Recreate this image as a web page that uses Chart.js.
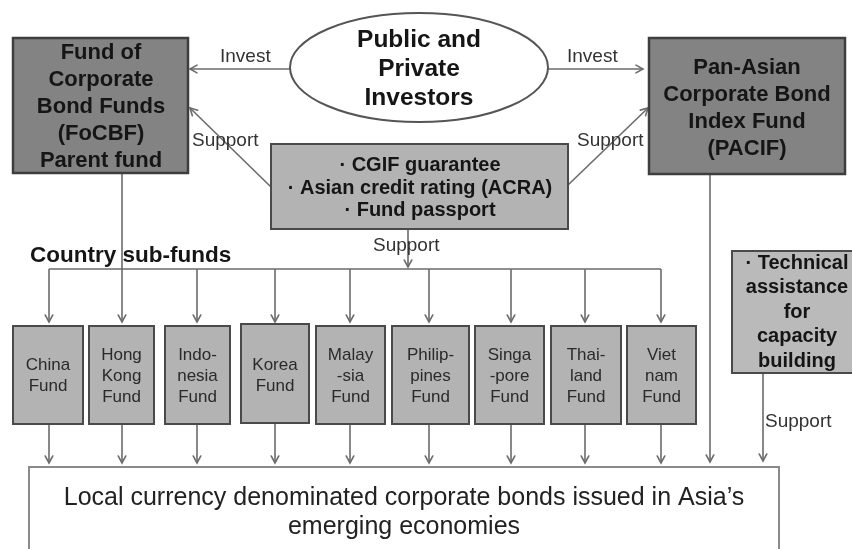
<!DOCTYPE html>
<html><head><meta charset="utf-8">
<script src="https://cdn.jsdelivr.net/npm/chart.js@4"></script>
<style>html,body{margin:0;padding:0;background:#fff}#wrap{width:852px;height:549px;position:relative}</style>
</head><body><div id="wrap"><canvas id="c"></canvas></div>
<script>
// ---------- content (texts) ----------
const investorsText = ["Public and","Private","Investors"];
const focbfText = ["Fund of","Corporate","Bond Funds","(FoCBF)","Parent fund"];
const pacifText = ["Pan-Asian","Corporate Bond","Index Fund","(PACIF)"];
const cgifText = ["\u00b7 CGIF guarantee","\u00b7 Asian credit rating (ACRA)","\u00b7 Fund passport"];
const techText = ["\u00b7 Technical","assistance","for","capacity","building"];
const bottomText = ["Local currency denominated corporate bonds issued in Asia\u2019s","emerging economies"];
const subFundsTitle = "Country sub-funds";
const fundNames = [["China","Fund"],["Hong","Kong","Fund"],["Indo-","nesia","Fund"],["Korea","Fund"],
  ["Malay","-sia","Fund"],["Philip-","pines","Fund"],["Singa","-pore","Fund"],["Thai-","land","Fund"],["Viet","nam","Fund"]];
const edgeLabels = ["Invest","Invest","Support","Support","Support","Support"];

// ---------- layout (diagram units) ----------
const fundLeft  = [13,89,165,241,316,392,475,551,627];
const fundRight = [83,154,230,309,385,469,544,621,696];
const fundArrowX = [49,122,197,275,350,429,511,585,661];

const FONT = '"Liberation Sans", Arial, Helvetica, sans-serif';
const DARK = '#838383', LIGHT = '#b3b3b3';

const boxes = [
  {x0:13,y0:38,x1:188,y1:173,fill:DARK,stroke:'#3e3e3e',lw:2.5,text:focbfText,cx:101,cy:107,lh:27,font:'bold 22px '+FONT},
  {x0:649,y0:38,x1:845,y1:174,fill:DARK,stroke:'#3e3e3e',lw:2.5,text:pacifText,cx:747,cy:108,lh:27,font:'bold 22px '+FONT},
  {x0:271,y0:144,x1:568,y1:229,fill:LIGHT,stroke:'#4a4a4a',lw:2,text:cgifText,cx:420,cy:188,lh:22.5,font:'bold 20px '+FONT},
  {x0:732,y0:251,x1:870,y1:373,fill:'#bababa',stroke:'#4a4a4a',lw:2,text:techText,cx:797,cy:312,lh:24.5,font:'bold 20px '+FONT},
  {x0:29,y0:467,x1:779,y1:570,fill:'#ffffff',stroke:'#8a8a8a',lw:2,text:bottomText,cx:404,cy:512.5,lh:29,font:'25px '+FONT,color:'#222'}
];
fundNames.forEach((t,i)=>{
  boxes.push({x0:fundLeft[i],y0:i===3?324:326,x1:fundRight[i],y1:i===3?423:424,fill:LIGHT,stroke:'#4a4a4a',lw:2,
    text:t,cx:(fundLeft[i]+fundRight[i])/2,cy:376,lh:21,font:'17px '+FONT,color:'#2a2a2a'});
});
const ellipse = {cx:419,cy:67.5,rx:129,ry:54.5,text:investorsText,lh:29,font:'bold 24.5px '+FONT,tcy:69};

const connectors = [
  {pts:[[290,69],[190,69]],arrow:true},
  {pts:[[548,69],[643,69]],arrow:true},
  {pts:[[271,187],[190,108]],arrow:true},
  {pts:[[568,185],[648,108]],arrow:true},
  {pts:[[408,229],[408,267]],arrow:true},
  {pts:[[49,269],[661,269]],arrow:false},
  {pts:[[122,173],[122,269]],arrow:false},
  {pts:[[710,174],[710,462]],arrow:true},
  {pts:[[763,373],[763,461]],arrow:true}
];
fundArrowX.forEach(x=>{
  connectors.push({pts:[[x,269],[x,322]],arrow:true});
  connectors.push({pts:[[x,424],[x,463]],arrow:true});
});
const labels = [
  {t:edgeLabels[0],x:220,y:57},{t:edgeLabels[1],x:567,y:57},
  {t:edgeLabels[2],x:192,y:141},{t:edgeLabels[3],x:577,y:141},
  {t:edgeLabels[4],x:373,y:246},{t:edgeLabels[5],x:765,y:422}
];
const LINE = '#6b6b6b';

const diagram = {
  id:'diagram',
  beforeDatasetsDraw(chart){
    const {ctx} = chart;
    ctx.save();
    ctx.fillStyle='#fff'; ctx.fillRect(0,0,chart.width,chart.height);
    ctx.restore();
  },
  afterDatasetsDraw(chart){
    const {ctx, scales:{x,y}} = chart;
    const X=v=>x.getPixelForValue(v), Y=v=>y.getPixelForValue(v);
    ctx.save();
    // arrowheads
    ctx.strokeStyle=LINE; ctx.lineWidth=1.6; ctx.lineCap='round';
    connectors.forEach(c=>{
      if(!c.arrow) return;
      const a=c.pts[c.pts.length-2], b=c.pts[c.pts.length-1];
      const ax=X(a[0]),ay=Y(a[1]),bx=X(b[0]),by=Y(b[1]);
      const ang=Math.atan2(by-ay,bx-ax), L=8, W=0.5;
      ctx.beginPath();
      ctx.moveTo(bx-L*Math.cos(ang-W),by-L*Math.sin(ang-W));
      ctx.lineTo(bx,by);
      ctx.lineTo(bx-L*Math.cos(ang+W),by-L*Math.sin(ang+W));
      ctx.stroke();
    });
    // ellipse
    ctx.beginPath();
    ctx.ellipse(X(ellipse.cx),Y(ellipse.cy),X(ellipse.cx+ellipse.rx)-X(ellipse.cx),Y(ellipse.cy+ellipse.ry)-Y(ellipse.cy),0,0,Math.PI*2);
    ctx.fillStyle='#fff'; ctx.fill();
    ctx.strokeStyle='#555'; ctx.lineWidth=2; ctx.stroke();
    drawLines(ctx, ellipse.text, X(ellipse.cx), Y(ellipse.tcy), ellipse.lh, ellipse.font, '#151515');
    // boxes
    boxes.forEach(b=>{
      const px0=X(b.x0),py0=Y(b.y0),px1=X(b.x1),py1=Y(b.y1);
      ctx.fillStyle=b.fill; ctx.fillRect(px0,py0,px1-px0,py1-py0);
      ctx.strokeStyle=b.stroke; ctx.lineWidth=b.lw; ctx.strokeRect(px0,py0,px1-px0,py1-py0);
      drawLines(ctx,b.text,X(b.cx),Y(b.cy),b.lh,b.font,b.color||'#151515');
    });
    // edge labels
    ctx.font='19px '+FONT; ctx.fillStyle='#333'; ctx.textAlign='left'; ctx.textBaseline='middle';
    labels.forEach(l=>ctx.fillText(l.t,X(l.x),Y(l.y)));
    ctx.font='bold 22.5px '+FONT; ctx.fillStyle='#151515';
    ctx.fillText(subFundsTitle,X(30),Y(256));
    ctx.restore();
  }
};
function drawLines(ctx,lines,cx,cy,lh,font,color){
  ctx.font=font; ctx.fillStyle=color; ctx.textAlign='center'; ctx.textBaseline='middle';
  const n=lines.length;
  lines.forEach((t,i)=>ctx.fillText(t,cx,cy+(i-(n-1)/2)*lh));
}

new Chart(document.getElementById('c'),{
  type:'scatter',
  data:{datasets:connectors.map(c=>({
    data:c.pts.map(p=>({x:p[0],y:p[1]})),
    showLine:true,borderColor:LINE,borderWidth:1.6,pointRadius:0,pointHoverRadius:0,fill:false,clip:false
  }))},
  options:{
    responsive:true,maintainAspectRatio:false,animation:false,devicePixelRatio:1,
    layout:{padding:0},
    events:[],
    plugins:{legend:{display:false},tooltip:{enabled:false}},
    scales:{
      x:{type:'linear',min:0,max:852,display:false},
      y:{type:'linear',min:0,max:549,reverse:true,display:false}
    }
  },
  plugins:[diagram]
});
</script></body></html>
